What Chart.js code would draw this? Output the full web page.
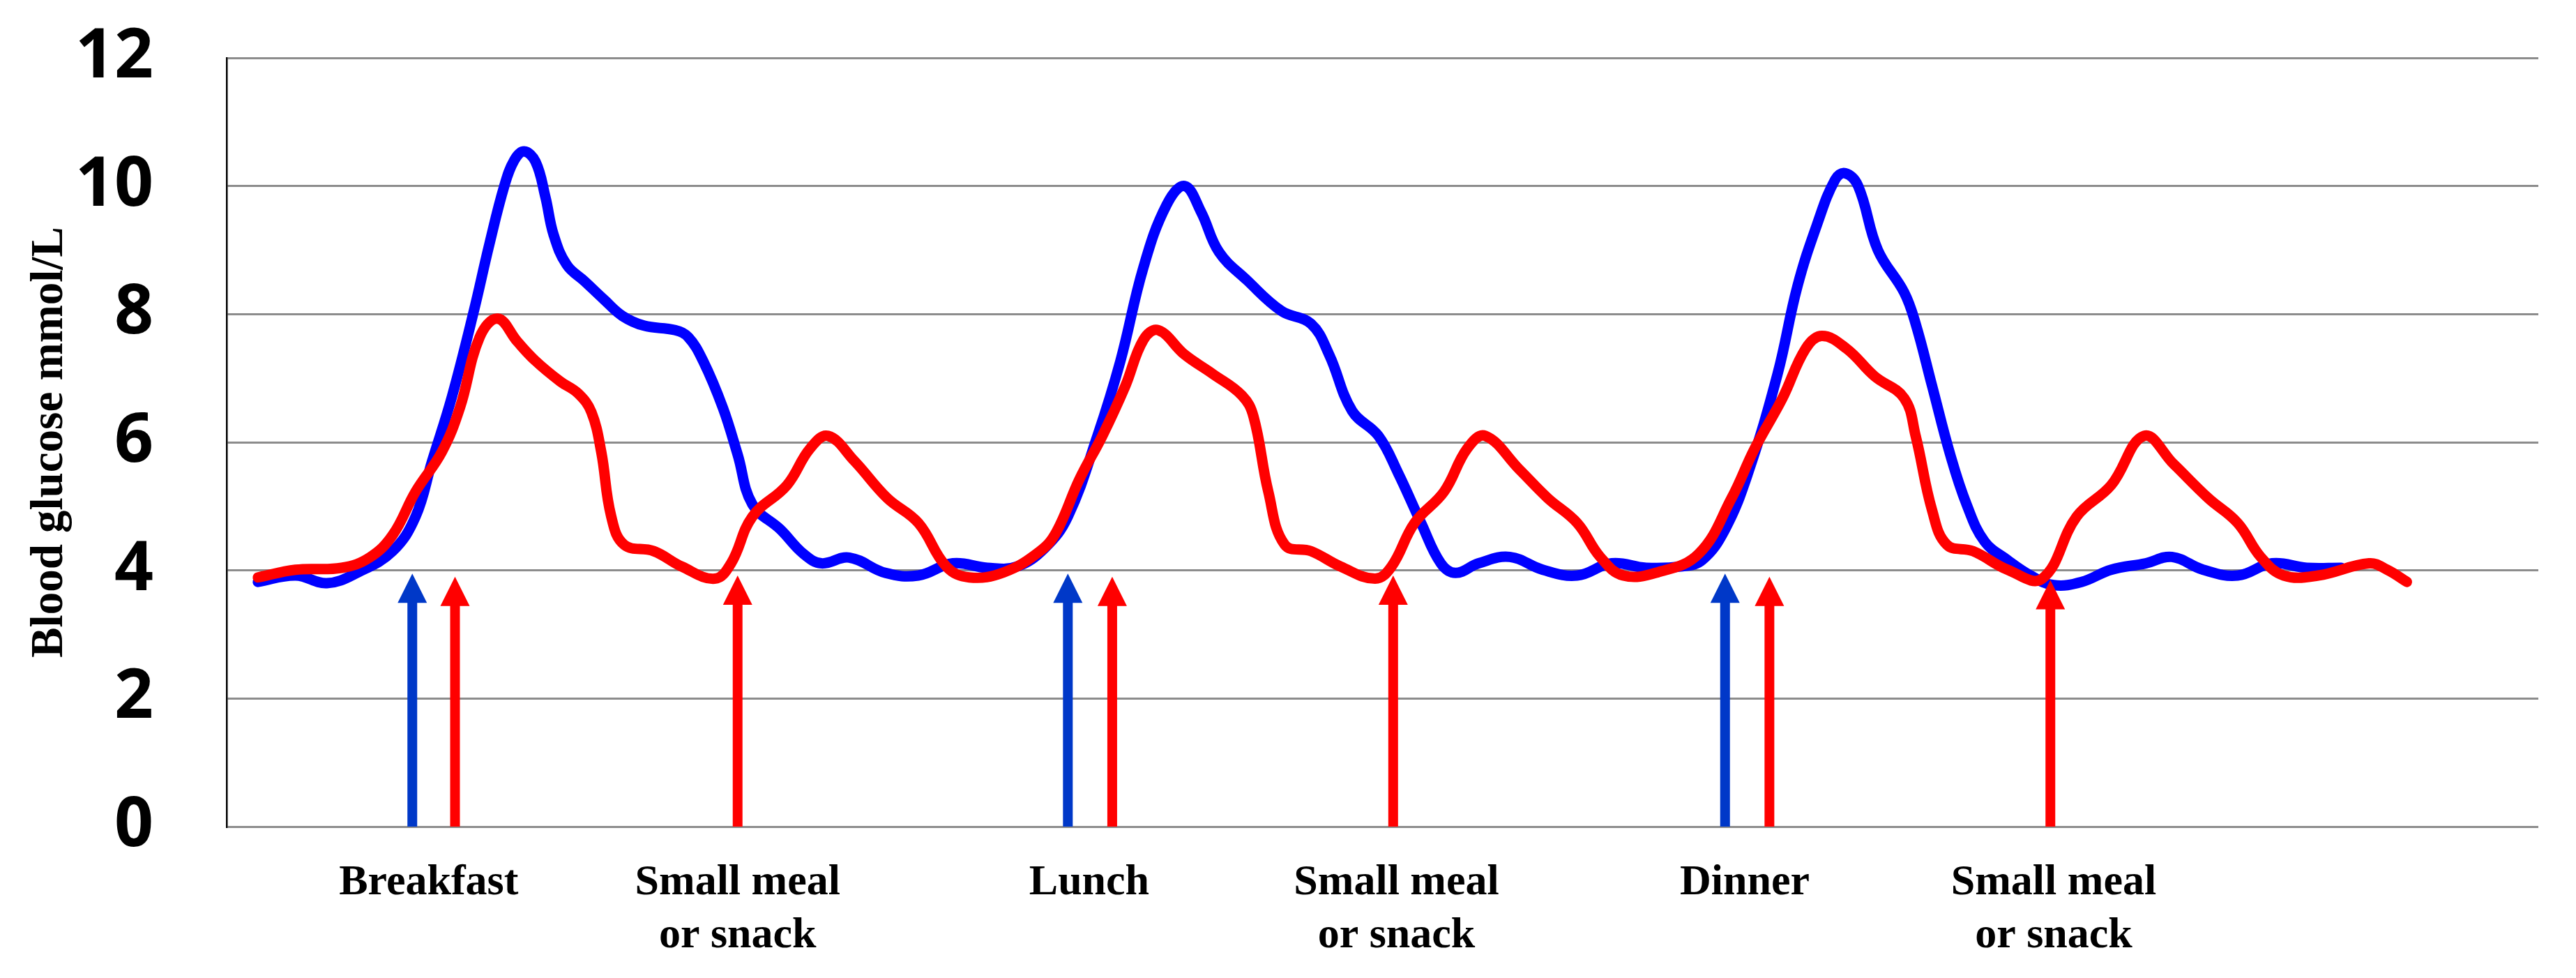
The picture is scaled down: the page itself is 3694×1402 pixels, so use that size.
<!DOCTYPE html>
<html>
<head>
  <meta charset="UTF-8">
  <title>Blood glucose</title>
  <script src="https://cdn.jsdelivr.net/npm/chart.js"></script>
  <style>
    html, body { margin: 0; padding: 0; background: #fff; }
    #wrap { width: 3694px; height: 1402px; }
  </style>
</head>
<body>
  <div id="wrap"><canvas id="myChart"></canvas></div>

  <script>
    // time axis is in arbitrary units (plot spans 0 .. 140.7)
    const blueTime = [1.9, 4.2, 6.1, 8.0, 10.1, 11.5, 12.5, 13.7, 15.0, 16.0, 16.9, 17.5, 18.1, 18.8, 19.4, 19.9, 20.7, 21.8, 23.0, 24.1, 25.4, 27.3, 28.1, 29.0, 30.2, 31.1, 32.0, 33.7, 35.1, 36.2, 37.9, 40.1,
      42.1, 44.2, 46.3, 48.1, 49.8, 51.2, 53.0, 54.4, 55.8, 57.2, 58.3, 59.3, 60.4, 62.1, 64.2, 66.0, 67.1, 68.5, 70.1, 71.3, 72.7, 73.9, 74.8, 76.2, 78.1, 80.1, 82.2, 84.3, 86.4, 88.5,
      89.8, 91.2, 92.6, 94.4, 95.6, 96.8, 97.9, 98.5, 99.3, 100.5, 102.1, 102.8, 103.8, 104.9, 105.9, 107.0, 108.4, 109.8, 111.2, 112.9, 114.7, 116.8, 118.4, 120.3, 122.4, 124.5, 126.6, 128.7];
    const blueGlucose = [3.82, 3.92, 3.80, 3.97, 4.3, 4.84, 5.7, 6.7, 8.0, 9.1, 10.0, 10.4, 10.54, 10.38, 9.83, 9.24, 8.77, 8.51, 8.22, 7.97, 7.82, 7.75, 7.64, 7.27, 6.54, 5.81, 5.03, 4.64, 4.26, 4.11, 4.2, 3.96,
      3.92, 4.11, 4.04, 4.06, 4.35, 4.84, 6.1, 7.27, 8.73, 9.7, 10.0, 9.6, 8.97, 8.53, 8.05, 7.85, 7.37, 6.49, 6.1, 5.52, 4.74, 4.11, 3.96, 4.11, 4.21, 4.01, 3.92, 4.11, 4.04, 4.06,
      4.16, 4.64, 5.52, 7.07, 8.43, 9.4, 10.1, 10.2, 10.0, 9.0, 8.34, 7.85, 6.88, 5.81, 5.03, 4.45, 4.16, 3.92, 3.77, 3.82, 4.01, 4.11, 4.21, 4.01, 3.92, 4.11, 4.04, 4.04];

    const redTime = [1.9, 4.2, 7.0, 8.7, 10.1, 11.5, 13.1, 14.2, 15.4, 16.5, 17.7, 18.8, 20.3, 21.4, 22.2, 22.8, 23.4, 24.2, 26.0, 27.7, 29.7, 30.7, 32.0, 34.1, 35.5, 36.6, 38.2, 40.2,
      42.1, 43.8, 45.2, 47.3, 49.5, 50.5, 51.9, 53.3, 54.7, 55.8, 56.7, 58.3, 60.0, 61.8, 62.5, 63.4, 64.4, 66.0, 67.8, 69.9, 70.9, 72.3, 74.1, 75.5, 76.6, 78.7, 80.4, 82.2, 83.6, 85.0, 87.1, 89.6,
      91.6, 93.0, 94.7, 96.1, 97.1, 98.6, 100.3, 102.1, 102.8, 103.8, 104.7, 106.3, 108.4, 110.5, 112.6, 114.7, 116.7, 118.5, 120.6, 122.4, 123.8, 125.2, 127.3, 130.4, 131.5, 132.7];
    const redGlucose = [3.89, 4.01, 4.04, 4.2, 4.55, 5.23, 5.85, 6.54, 7.64, 7.93, 7.57, 7.27, 6.95, 6.76, 6.47, 5.85, 4.85, 4.4, 4.3, 4.06, 3.87, 4.11, 4.84, 5.33, 5.9, 6.1, 5.71, 5.13,
      4.74, 4.06, 3.89, 3.97, 4.3, 4.6, 5.42, 6.1, 6.88, 7.6, 7.75, 7.37, 7.07, 6.73, 6.4, 5.23, 4.4, 4.3, 4.06, 3.87, 4.06, 4.74, 5.23, 5.9, 6.1, 5.57, 5.13, 4.74, 4.21, 3.92, 3.97, 4.26,
      5.13, 5.9, 6.69, 7.46, 7.66, 7.46, 7.03, 6.69, 6.1, 4.94, 4.4, 4.3, 4.01, 3.87, 4.84, 5.33, 6.1, 5.66, 5.13, 4.74, 4.21, 3.92, 3.92, 4.11, 4.01, 3.82];

    // meal arrows: time, tip value, which curve colour
    const arrowTime = [11.3, 13.9, 31.1, 51.2, 53.9, 71.0, 91.2, 93.9, 111.0];
    const arrowTip = [3.95, 3.9, 3.92, 3.95, 3.9, 3.92, 3.95, 3.9, 3.85];
    const arrowKind = ['blue', 'red', 'red', 'blue', 'red', 'red', 'blue', 'red', 'red'];

    const mealTime = [12.3, 31.1, 52.5, 71.2, 92.4, 111.2];
    const mealLabels = [['Breakfast'], ['Small meal', 'or snack'], ['Lunch'], ['Small meal', 'or snack'], ['Dinner'], ['Small meal', 'or snack']];

    const yTicks = [0, 2, 4, 6, 8, 10, 12];

    const arrowColors = { blue: '#0038c8', red: '#ff0000' };

    const arrowPlugin = {
      id: 'mealArrows',
      afterDatasetsDraw(chart) {
        const ctx = chart.ctx;
        const xs = chart.scales.x, ys = chart.scales.y;
        const base = ys.getPixelForValue(0);
        ctx.save();
        arrowTime.forEach((t, i) => {
          const px = xs.getPixelForValue(t);
          const tip = ys.getPixelForValue(arrowTip[i]);
          ctx.fillStyle = arrowColors[arrowKind[i]];
          ctx.fillRect(px - 7, tip + 38, 14, base - tip - 38);
          ctx.beginPath();
          ctx.moveTo(px, tip);
          ctx.lineTo(px + 21, tip + 42);
          ctx.lineTo(px - 21, tip + 42);
          ctx.closePath();
          ctx.fill();
        });
        ctx.restore();
      }
    };

    const ctx = document.getElementById('myChart').getContext('2d');
    const chart = new Chart(ctx, {
      type: 'line',
      data: {
        datasets: [
          {
            label: 'red',
            data: redTime.map((t, i) => ({ x: t, y: redGlucose[i] })),
            borderColor: '#ff0000',
            borderWidth: 15,
            tension: 0.4,
            pointRadius: 0,
            borderCapStyle: 'round',
            borderJoinStyle: 'round',
            order: 0
          },
          {
            label: 'blue',
            data: blueTime.map((t, i) => ({ x: t, y: blueGlucose[i] })),
            borderColor: '#0000ff',
            borderWidth: 15,
            tension: 0.4,
            pointRadius: 0,
            borderCapStyle: 'round',
            borderJoinStyle: 'round',
            order: 1
          }
        ]
      },
      options: {
        responsive: true,
        maintainAspectRatio: false,
        animation: false,
        layout: { padding: { top: 83, right: 54, left: 0, bottom: 0 } },
        plugins: { legend: { display: false }, tooltip: { enabled: false } },
        scales: {
          x: {
            type: 'linear',
            min: 0,
            max: 140.7,
            grid: { display: false, drawTicks: false },
            border: { display: false },
            afterBuildTicks: scale => { scale.ticks = mealTime.map(v => ({ value: v })); },
            afterFit: scale => { scale.height = 217; scale.paddingLeft = 0; scale.paddingRight = 0; },
            ticks: {
              autoSkip: false,
              maxRotation: 0,
              padding: 43,
              color: '#000',
              font: { family: '"Liberation Serif", serif', size: 62, weight: 'bold', lineHeight: 1.23 },
              callback: (v, i) => mealLabels[i]
            }
          },
          y: {
            min: 0,
            max: 12,
            afterBuildTicks: scale => { scale.ticks = yTicks.map(v => ({ value: v })); },
            afterFit: scale => { scale.width = 325; scale.paddingTop = 0; scale.paddingBottom = 0; },
            grid: { color: '#8c8c8c', lineWidth: 3, drawTicks: false },
            border: { display: true, color: '#000', width: 2.5 },
            ticks: {
              padding: 105,
              color: '#000',
              font: { family: '"Open Sans", sans-serif', size: 98, weight: 'bold' }
            },
            title: {
              display: true,
              text: 'Blood glucose mmol/L',
              color: '#000',
              padding: { top: 33, bottom: 0 },
              font: { family: '"Liberation Serif", serif', size: 65, weight: 'bold' }
            }
          }
        }
      },
      plugins: [arrowPlugin]
    });
  </script>
</body>
</html>
